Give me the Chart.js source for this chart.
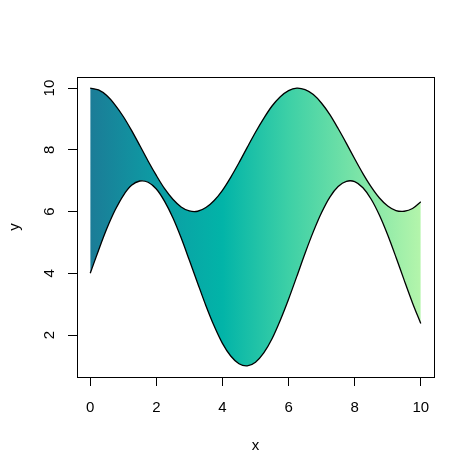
<!DOCTYPE html>
<html>
<head>
<meta charset="utf-8">
<script src="https://cdn.jsdelivr.net/npm/chart.js"></script>
<style>
  html, body { margin: 0; padding: 0; background: #fff; }
  #wrap { width: 474px; height: 474px; }
</style>
</head>
<body>
<div id="wrap"><canvas id="c" width="474" height="474"></canvas></div>
<script>
const xValues = [
    0, 0.25, 0.5, 0.75, 1, 1.25, 1.5, 1.75, 2, 2.25, 2.5, 2.75, 3, 3.25, 3.5, 3.75,
    4, 4.25, 4.5, 4.75, 5, 5.25, 5.5, 5.75, 6, 6.25, 6.5, 6.75, 7, 7.25, 7.5, 7.75,
    8, 8.25, 8.5, 8.75, 9, 9.25, 9.5, 9.75, 10
];
const upperY = [
    10.00, 9.94, 9.76, 9.46, 9.08, 8.63, 8.14, 7.64, 7.17, 6.74, 6.40, 6.15, 6.02, 6.01, 6.13, 6.36,
    6.69, 7.11, 7.58, 8.08, 8.57, 9.02, 9.42, 9.72, 9.92, 10.00, 9.95, 9.79, 9.51, 9.14, 8.69, 8.21,
    7.71, 7.23, 6.80, 6.44, 6.18, 6.03, 6.01, 6.10, 6.32
];
const lowerY = [
    4.00, 4.74, 5.44, 6.04, 6.52, 6.85, 6.99, 6.95, 6.73, 6.33, 5.80, 5.15, 4.42, 3.68, 2.95, 2.29,
    1.73, 1.32, 1.07, 1.00, 1.12, 1.42, 1.88, 2.48, 3.16, 3.90, 4.65, 5.35, 5.97, 6.47, 6.81, 6.98,
    6.97, 6.77, 6.40, 5.88, 5.24, 4.52, 3.77, 3.04, 2.37
];
const xTicks = [0, 2, 4, 6, 8, 10];
const yTicks = [2, 4, 6, 8, 10];
const gradientStops = ['#1b7c97', '#0d9ca4', '#02b4a8', '#3dd0a6', '#78e3a7', '#b4f5ab'];

const FONT = '15px "Liberation Sans", Arial, sans-serif';

function fillGradient(context) {
    const chart = context.chart;
    if (!chart.chartArea) return gradientStops[2];
    const xs = chart.scales.x;
    const x0 = xs.getPixelForValue(xValues[0]);
    const x1 = xs.getPixelForValue(xValues[xValues.length - 1]);
    const g = chart.ctx.createLinearGradient(x0, 0, x1, 0);
    gradientStops.forEach((c, i) => g.addColorStop(i / (gradientStops.length - 1), c));
    return g;
}

// R style frame, rotated y labels and axis titles
const rFrame = {
    id: 'rFrame',
    afterDraw(chart) {
        const { ctx, chartArea: a, scales } = chart;
        ctx.save();
        ctx.strokeStyle = '#000';
        ctx.lineWidth = 1;
        ctx.strokeRect(Math.round(a.left) + 0.5, Math.round(a.top) + 0.5,
            Math.round(a.right - a.left), Math.round(a.bottom - a.top));

        ctx.fillStyle = '#000';
        ctx.font = FONT;
        ctx.textAlign = 'center';
        ctx.textBaseline = 'middle';
        xTicks.forEach(v => {
            ctx.fillText(String(v), scales.x.getPixelForValue(v), a.bottom + 31);
        });
        ctx.fillText('x', (a.left + a.right) / 2, a.bottom + 69);

        yTicks.forEach(v => {
            ctx.save();
            ctx.translate(a.left - 27, scales.y.getPixelForValue(v));
            ctx.rotate(-Math.PI / 2);
            ctx.fillText(String(v), 0, 0);
            ctx.restore();
        });
        ctx.save();
        ctx.translate(a.left - 62, (a.top + a.bottom) / 2);
        ctx.rotate(-Math.PI / 2);
        ctx.fillText('y', 0, 0);
        ctx.restore();
        ctx.restore();
    }
};

new Chart(document.getElementById('c'), {
    type: 'line',
    data: {
        datasets: [
            {
                label: 'upper',
                data: xValues.map((x, i) => ({ x: x, y: upperY[i] })),
                borderColor: '#000',
                borderWidth: 1.3,
                backgroundColor: fillGradient,
                fill: '+1',
                pointRadius: 0,
                tension: 0.3
            },
            {
                label: 'lower',
                data: xValues.map((x, i) => ({ x: x, y: lowerY[i] })),
                borderColor: '#000',
                borderWidth: 1.3,
                fill: false,
                pointRadius: 0,
                tension: 0.3
            }
        ]
    },
    options: {
        responsive: false,
        animation: false,
        events: [],
        layout: { padding: { top: 77, right: 40, left: 0, bottom: 0 } },
        plugins: {
            legend: { display: false },
            tooltip: { enabled: false },
            filler: { propagate: false, drawTime: 'beforeDatasetsDraw' }
        },
        scales: {
            x: {
                type: 'linear',
                min: -0.4,
                max: 10.4,
                afterFit: s => { s.height = 97; },
                afterBuildTicks: s => { s.ticks = xTicks.map(v => ({ value: v })); },
                ticks: { display: false },
                grid: { drawOnChartArea: false, drawTicks: true, tickLength: 9, color: '#000', lineWidth: 1 },
                border: { display: false }
            },
            y: {
                type: 'linear',
                min: 0.64,
                max: 10.36,
                afterFit: s => { s.width = 77; },
                afterBuildTicks: s => { s.ticks = yTicks.map(v => ({ value: v })); },
                ticks: { display: false },
                grid: { drawOnChartArea: false, drawTicks: true, tickLength: 9, color: '#000', lineWidth: 1 },
                border: { display: false }
            }
        }
    },
    plugins: [rFrame]
});
</script>
</body>
</html>
